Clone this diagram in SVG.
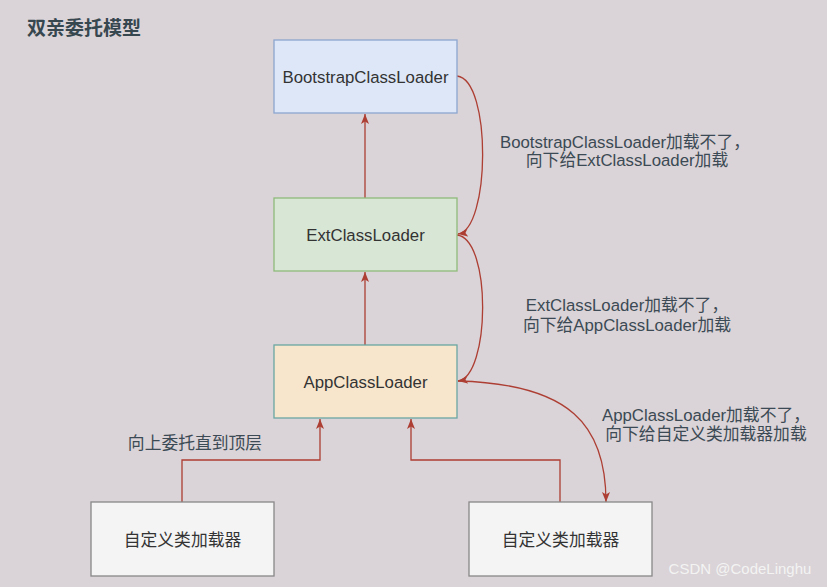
<svg xmlns="http://www.w3.org/2000/svg" width="827" height="587" viewBox="0 0 827 587">
<defs>
<marker id="arr" viewBox="0 0 10 8" refX="10" refY="4" markerWidth="10" markerHeight="8" markerUnits="userSpaceOnUse" orient="auto">
<path d="M0,0 L10,4 L0,8 L2.5,4 Z" fill="#ad3e33"/>
</marker>
<style>
.t{font-family:"Liberation Sans","Noto Sans CJK SC",sans-serif;font-size:16.8px;text-anchor:middle;dominant-baseline:central}
.box{fill:#333}
.lab{fill:#3b4a54}
.e{fill:none;stroke:#ad3e33;stroke-width:1.3;marker-end:url(#arr)}
</style>
</defs>
<rect width="827" height="587" fill="#dad3d7"/>
<text x="27" y="28" font-family="'Liberation Sans','Noto Sans CJK SC',sans-serif" font-size="19" font-weight="bold" fill="#37474f" dominant-baseline="central">双亲委托模型</text>

<g id="connectors">
<path class="e" d="M365,198 L365,114"/>
<path class="e" d="M365,345 L365,272"/>
<path class="e" d="M182,502 L182,460 L320,460 L320,419"/>
<path class="e" d="M560,502 L560,460 L411,460 L411,419"/>
<path class="e" d="M457,76 C492,80 490,230 458,234"/>
<path class="e" d="M457,235 C492,239 490,377 458,381"/>
<path class="e" d="M458,381 C570,384 606,425 606,502"/>
</g>

<g id="bootstrap">
<rect x="274" y="40" width="183" height="73" fill="#dde7f8" stroke="#8da6cf" stroke-width="1.3"/>
<text class="t box" x="365.5" y="77">BootstrapClassLoader</text>
</g>
<g id="ext">
<rect x="274" y="198" width="183" height="73" fill="#d8e6d5" stroke="#8fba7a" stroke-width="1.3"/>
<text class="t box" x="365.5" y="235">ExtClassLoader</text>
</g>
<g id="app">
<rect x="274" y="345" width="183" height="73" fill="#f7e6cc" stroke="#6aa7a3" stroke-width="1.3"/>
<text class="t box" x="365.5" y="382">AppClassLoader</text>
</g>
<g id="custom1">
<rect x="91" y="502" width="183" height="74" fill="#f4f4f4" stroke="#888" stroke-width="1.3"/>
<text class="t box" x="182.5" y="540">自定义类加载器</text>
</g>
<g id="custom2">
<rect x="469" y="502" width="183" height="74" fill="#f4f4f4" stroke="#888" stroke-width="1.3"/>
<text class="t box" x="560.5" y="540">自定义类加载器</text>
</g>

<g id="labels">
<text class="t lab" x="625" y="142">BootstrapClassLoader加载不了，</text>
<text class="t lab" x="627" y="160">向下给ExtClassLoader加载</text>
<text class="t lab" x="627" y="305">ExtClassLoader加载不了，</text>
<text class="t lab" x="627" y="325">向下给AppClassLoader加载</text>
<text class="t lab" x="706" y="415">AppClassLoader加载不了，</text>
<text class="t lab" x="706" y="434">向下给自定义类加载器加载</text>
<text class="t lab" x="195" y="443">向上委托直到顶层</text>
</g>
<text x="740" y="568" font-family="'Liberation Sans',sans-serif" font-size="15" fill="#f3f3f3" text-anchor="middle" dominant-baseline="central">CSDN @CodeLinghu</text>
</svg>
